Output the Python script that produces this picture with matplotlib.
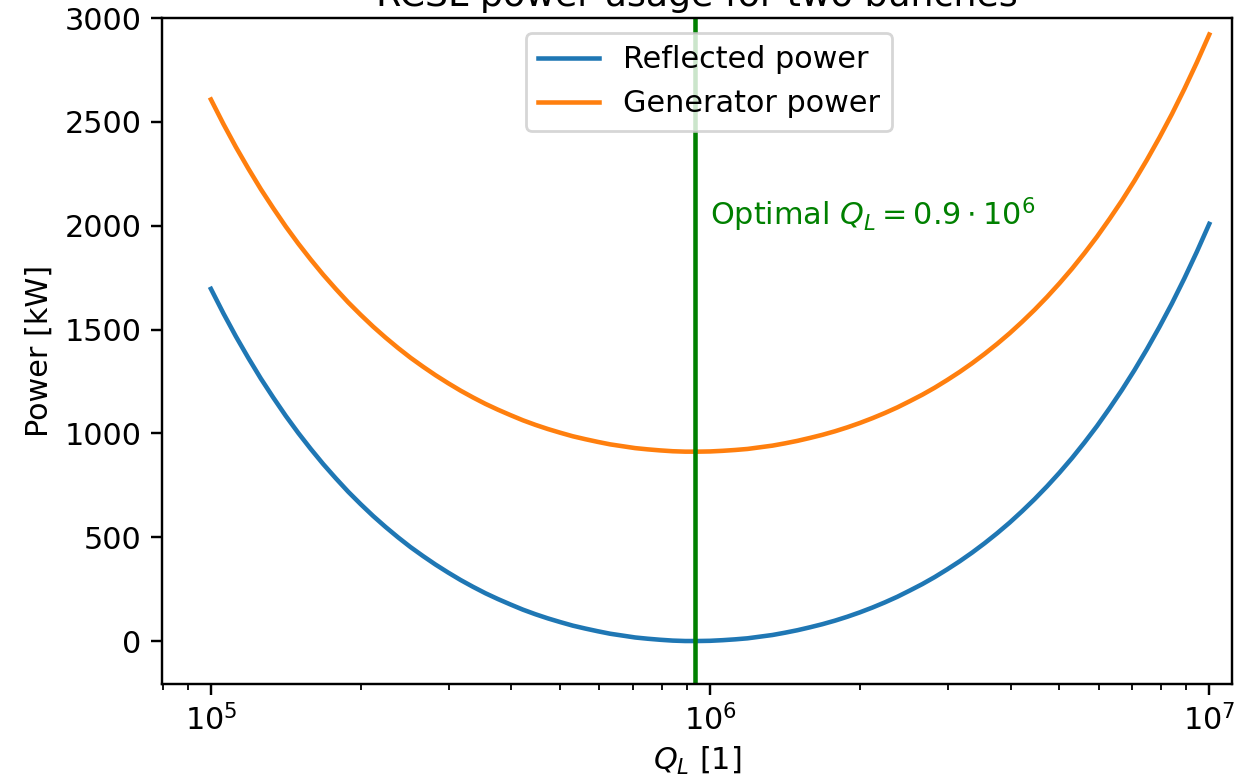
import matplotlib
matplotlib.use("Agg")
import matplotlib.pyplot as plt

# Mantissas of the loaded-Q samples within one decade (read along the log axis)
mantissa = [1.0000, 1.0593, 1.1220, 1.1885, 1.2589, 1.3335, 1.4125, 1.4962, 1.5849, 1.6788,
            1.7783, 1.8836, 1.9953, 2.1135, 2.2387, 2.3714, 2.5119, 2.6607, 2.8184, 2.9854,
            3.1623, 3.3497, 3.5481, 3.7584, 3.9811, 4.2170, 4.4668, 4.7315, 5.0119, 5.3088,
            5.6234, 5.9566, 6.3096, 6.6834, 7.0795, 7.4989, 7.9433, 8.4140, 8.9125, 9.4406]
q_l = [m * 1e5 for m in mantissa] + [m * 1e6 for m in mantissa] + [1e7]

reflected_kw = [1696, 1578, 1467, 1363, 1264, 1172, 1084, 1002, 925, 852,
                784, 719, 659, 602, 549, 499, 452, 409, 368, 330,
                294, 261, 230, 202, 176, 151, 129, 109, 91, 74,
                60, 47, 35, 26, 17, 11, 6, 2, 0, 0,
                1, 4, 8, 13, 21, 29, 40, 52, 66, 81,
                98, 117, 138, 161, 186, 213, 243, 274, 308, 345,
                384, 426, 471, 519, 570, 625, 683, 745, 811, 881,
                956, 1035, 1120, 1209, 1304, 1405, 1512, 1625, 1746, 1874,
                2009]

generator_kw = [2608, 2490, 2379, 2275, 2176, 2084, 1996, 1914, 1837, 1764,
                1696, 1631, 1571, 1514, 1461, 1411, 1364, 1321, 1280, 1242,
                1206, 1173, 1142, 1114, 1088, 1063, 1041, 1021, 1003, 986,
                972, 959, 947, 938, 929, 923, 918, 914, 912, 912,
                913, 916, 920, 925, 933, 941, 952, 964, 978, 993,
                1010, 1029, 1050, 1073, 1098, 1125, 1155, 1186, 1220, 1257,
                1296, 1338, 1383, 1431, 1482, 1537, 1595, 1657, 1723, 1793,
                1868, 1947, 2032, 2121, 2216, 2317, 2424, 2537, 2658, 2786,
                2921]

q_opt = 0.933e6
series_labels = ["Reflected power", "Generator power"]
y_ticks = [0, 500, 1000, 1500, 2000, 2500, 3000]

s = 1.09
plt.rcParams.update({
    "font.size": 10 * s,
    "lines.linewidth": 1.5 * s,
    "axes.linewidth": 0.8 * s,
    "xtick.major.size": 3.5 * s, "ytick.major.size": 3.5 * s,
    "xtick.minor.size": 2 * s, "ytick.minor.size": 2 * s,
    "xtick.major.width": 0.8 * s, "ytick.major.width": 0.8 * s,
    "xtick.minor.width": 0.6 * s, "ytick.minor.width": 0.6 * s,
    "legend.fontsize": 10 * s,
})

fig = plt.figure(figsize=(6.255, 3.885), dpi=200)
ax = fig.add_axes([0.1295, 0.1197, 0.8555, 0.857])

ax.plot(q_l, reflected_kw, color="#1f77b4", label=series_labels[0])
ax.plot(q_l, generator_kw, color="#ff7f0e", label=series_labels[1])
ax.axvline(q_opt, color="green")
ax.text(1.0e6, 2000, r"Optimal $Q_L = 0.9 \cdot 10^6$", color="green")

ax.set_xscale("log")
ax.set_xlim(10 ** 4.902, 10 ** 7.046)
ax.set_ylim(-207, 3000)
ax.set_yticks(y_ticks)
ax.set_xlabel(r"$Q_L$ [1]", labelpad=3)
ax.set_ylabel("Power [kW]")
ax.set_title("RCSL power usage for two bunches", pad=4.3)
ax.legend(loc="upper center", bbox_to_anchor=(0.511, 1.0))

fig.savefig("out.png", dpi=200)
